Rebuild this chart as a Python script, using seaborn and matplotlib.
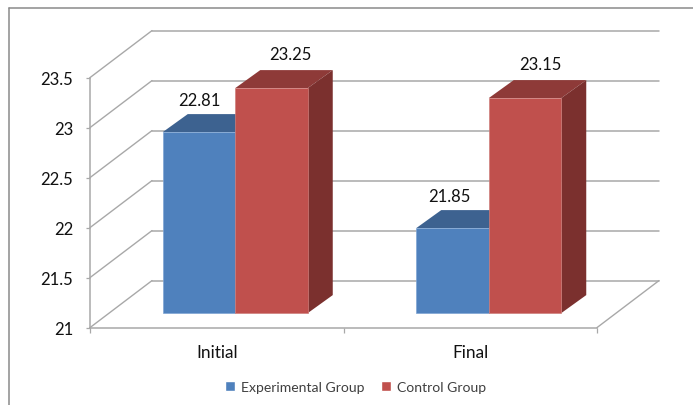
import matplotlib
matplotlib.use("Agg")
import matplotlib.pyplot as plt
from matplotlib.lines import Line2D
from matplotlib.patches import Polygon
import pandas as pd
import seaborn as sns

categories = ["Initial", "Final"]
experimental_group = [22.81, 21.85]
control_group = [23.25, 23.15]
series_names = ["Experimental Group", "Control Group"]
y_ticks = [21, 21.5, 22, 22.5, 23, 23.5]
y_tick_labels = ["21", "21.5", "22", "22.5", "23", "23.5"]

FRONT_COLORS = ["#4f81bd", "#c0504d"]
EDGE_COLORS = ["#7fa5d3", "#cf7f7c"]
TOP_COLORS = ["#3d6290", "#8e3a38"]
SIDE_COLORS = ["#375a85", "#7b302e"]
GRID = "#a8a8a8"

sns.set_theme(style="white")
plt.rcParams["font.family"] = ["Lato", "DejaVu Sans"]

W, H = 693, 406
fig = plt.figure(figsize=(W / 100, H / 100), dpi=100, facecolor="white")
ax = fig.add_axes([90 / W, 1 - 328.6 / H, 507 / W, 250 / H])
ax.patch.set_alpha(0)

table = pd.DataFrame({
    "category": categories * 2,
    "group": [series_names[0]] * 2 + [series_names[1]] * 2,
    "value": experimental_group + control_group,
})
sns.barplot(data=table, x="category", y="value", hue="group", order=categories,
            hue_order=series_names, palette=FRONT_COLORS, saturation=1,
            width=0.572, gap=0, errorbar=None, ax=ax, zorder=3)

ax.set_xlim(-0.5, 1.5)
ax.set_ylim(21, 23.5)

# Oblique depth, in data units: the whole floor, and the bars standing mid-way on it
wall_dx, wall_dy = 62 / 253.5, 0.47
bar_dx, bar_dy = 18.5 / 253.5, 0.145
cap_dx, cap_dy = 25 / 253.5, 0.18

# Back wall, left wall and floor
for level in y_ticks:
    ax.plot([-0.5 + wall_dx, 1.5 + wall_dx], [level + wall_dy] * 2, color=GRID,
            lw=1.1, clip_on=False, zorder=1)
    ax.plot([-0.5, -0.5 + wall_dx], [level, level + wall_dy], color=GRID,
            lw=1.0, clip_on=False, zorder=1)
ax.plot([1.5, 1.5 + wall_dx], [21, 21 + wall_dy], color=GRID, lw=1.0, clip_on=False, zorder=1)

# Shift each bar onto the floor and add its top and side faces
for s, container in enumerate(ax.containers):
    for bar in container:
        x0 = bar.get_x() + bar_dx
        x1 = x0 + bar.get_width()
        base = 21 + bar_dy
        top = bar.get_height() + bar_dy
        bar.set_x(x0)
        bar.set_y(base)
        bar.set_height(top - base)
        bar.set_clip_on(False)
        bar.set_edgecolor(EDGE_COLORS[s])
        bar.set_linewidth(0.5)
        bar.set_zorder(3 + 2 * s + 1)
        ax.add_patch(Polygon([(x0, top), (x1, top), (x1 + cap_dx, top + cap_dy), (x0 + cap_dx, top + cap_dy)],
                             facecolor=TOP_COLORS[s], edgecolor="none", clip_on=False, zorder=3 + 2 * s))
        ax.add_patch(Polygon([(x1, base), (x1 + cap_dx, base + cap_dy), (x1 + cap_dx, top + cap_dy), (x1, top)],
                             facecolor=SIDE_COLORS[s], edgecolor="none", clip_on=False, zorder=3 + 2 * s))

# Value labels above the bars
label_shift = [[(0.5, 32), (-3.5, 32)], [(18.5, 34.5), (15, 34)]]
for s, values in enumerate([experimental_group, control_group]):
    for c, value in enumerate(values):
        bar = ax.containers[s][c]
        ax.annotate(f"{value:.2f}", (bar.get_x() + bar.get_width() / 2, value + bar_dy),
                    xytext=(label_shift[s][c][0] * 0.72, label_shift[s][c][1] * 0.72),
                    textcoords="offset points", ha="center", va="center",
                    fontsize=12, color="#111111", annotation_clip=False, zorder=9)

# Axes
for side in ("top", "right"):
    ax.spines[side].set_visible(False)
for side in ("left", "bottom"):
    ax.spines[side].set_color(GRID)
    ax.spines[side].set_linewidth(1.1)
ax.set_xlabel("")
ax.set_ylabel("")
ax.set_yticks(y_ticks, y_tick_labels)
ax.set_xticks([0, 1], categories)
ax.set_xticks([-0.5, 0.5, 1.5], minor=True)
ax.tick_params(axis="y", left=True, length=3.2, width=0.9, color=GRID, pad=9,
               labelsize=12, labelcolor="#111111")
ax.tick_params(axis="x", which="major", bottom=False, pad=6, labelsize=12.4, labelcolor="#111111")
ax.tick_params(axis="x", which="minor", bottom=True, length=3.6, width=0.9, color=GRID)
for tick_label in ax.get_xticklabels():
    tick_label.set_x(tick_label.get_position()[0])

# Legend below the plot
handles = [plt.Rectangle((0, 0), 1, 1, facecolor=c) for c in FRONT_COLORS]
ax.legend(handles, series_names, loc="center", bbox_to_anchor=(355.5 / W, 1 - 388 / H),
          bbox_transform=fig.transFigure, ncol=2, frameon=False, fontsize=10.1,
          handlelength=0.72, handleheight=0.72, handletextpad=0.42, columnspacing=1.2,
          labelcolor="#404040", borderpad=0)

# Chart border running off the right and bottom of the image
border = "#8a8a8a"
fig.add_artist(Line2D([9 / W, 9 / W], [0, 1 - 9 / H], color=border, lw=1.1))
fig.add_artist(Line2D([9 / W, 1], [1 - 9 / H, 1 - 9 / H], color=border, lw=1.1))

fig.savefig("out.png", dpi=100)
